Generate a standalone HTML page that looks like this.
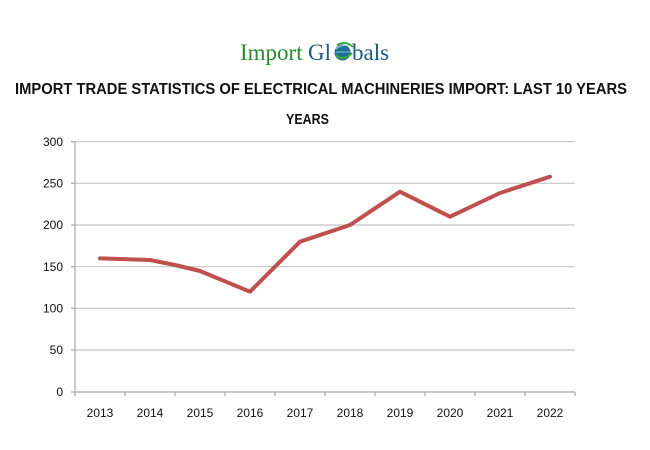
<!DOCTYPE html>
<html>
<head>
<meta charset="utf-8">
<style>
  html,body{margin:0;padding:0;background:#fff;}
  svg{display:block;}
</style>
</head>
<body>
<svg width="650" height="450" viewBox="0 0 650 450" xmlns="http://www.w3.org/2000/svg">
  <rect width="650" height="450" fill="#ffffff"/>

  <!-- Logo -->
  <text x="240" y="60" font-family="'Liberation Serif', serif" font-size="23" fill="#2b8a2e">Import</text>
  <text x="308" y="60" font-family="'Liberation Serif', serif" font-size="23" fill="#1d5a7e">Gl</text>
  <g>
    <circle cx="342.5" cy="52.5" r="8" fill="#1f6f9a"/>
    <path d="M336 49 Q342 44 349 46" stroke="#9fd0ec" stroke-width="1" fill="none"/>
    <path d="M335.5 52 L349.5 52" stroke="#9fd0ec" stroke-width="0.8" fill="none"/>
    <path d="M336 55 Q343 62 352 53" stroke="#3aa53a" stroke-width="2.2" fill="none"/>
    <path d="M337 45 Q346 40 353 47" stroke="#3aa53a" stroke-width="1.8" fill="none"/>
  </g>
  <text x="352" y="60" font-family="'Liberation Serif', serif" font-size="23" fill="#1d5a7e">bals</text>

  <!-- Titles -->
  <text x="15" y="94" font-family="'Liberation Sans', sans-serif" font-weight="bold" font-size="16" fill="#111" textLength="612" lengthAdjust="spacingAndGlyphs">IMPORT TRADE STATISTICS OF ELECTRICAL MACHINERIES IMPORT: LAST 10 YEARS</text>
  <text x="286" y="124" font-family="'Liberation Sans', sans-serif" font-weight="bold" font-size="15" fill="#111" textLength="43" lengthAdjust="spacingAndGlyphs">YEARS</text>

  <!-- Gridlines -->
  <g stroke="#c4c4c4" stroke-width="1.2">
    <line x1="75" y1="141.7" x2="575" y2="141.7"/>
    <line x1="75" y1="183.3" x2="575" y2="183.3"/>
    <line x1="75" y1="225" x2="575" y2="225"/>
    <line x1="75" y1="266.7" x2="575" y2="266.7"/>
    <line x1="75" y1="308.3" x2="575" y2="308.3"/>
    <line x1="75" y1="350" x2="575" y2="350"/>
  </g>

  <!-- Axes -->
  <g stroke="#a6a6a6" stroke-width="1.2">
    <line x1="75" y1="141.7" x2="75" y2="392"/>
    <line x1="75" y1="392" x2="575" y2="392"/>
    <line x1="71" y1="141.7" x2="75" y2="141.7"/>
    <line x1="71" y1="183.3" x2="75" y2="183.3"/>
    <line x1="71" y1="225" x2="75" y2="225"/>
    <line x1="71" y1="266.7" x2="75" y2="266.7"/>
    <line x1="71" y1="308.3" x2="75" y2="308.3"/>
    <line x1="71" y1="350" x2="75" y2="350"/>
    <line x1="71" y1="392" x2="75" y2="392"/>
    <line x1="75" y1="392" x2="75" y2="396"/>
    <line x1="125" y1="392" x2="125" y2="396"/>
    <line x1="175" y1="392" x2="175" y2="396"/>
    <line x1="225" y1="392" x2="225" y2="396"/>
    <line x1="275" y1="392" x2="275" y2="396"/>
    <line x1="325" y1="392" x2="325" y2="396"/>
    <line x1="375" y1="392" x2="375" y2="396"/>
    <line x1="425" y1="392" x2="425" y2="396"/>
    <line x1="475" y1="392" x2="475" y2="396"/>
    <line x1="525" y1="392" x2="525" y2="396"/>
    <line x1="575" y1="392" x2="575" y2="396"/>
  </g>

  <!-- Y labels -->
  <g font-family="'Liberation Sans', sans-serif" font-size="12" fill="#111" text-anchor="end">
    <text x="63" y="146">300</text>
    <text x="63" y="187.5">250</text>
    <text x="63" y="229">200</text>
    <text x="63" y="271">150</text>
    <text x="63" y="312.5">100</text>
    <text x="63" y="354">50</text>
    <text x="63" y="396">0</text>
  </g>

  <!-- X labels -->
  <g font-family="'Liberation Sans', sans-serif" font-size="12" fill="#111" text-anchor="middle">
    <text x="100" y="417">2013</text>
    <text x="150" y="417">2014</text>
    <text x="200" y="417">2015</text>
    <text x="250" y="417">2016</text>
    <text x="300" y="417">2017</text>
    <text x="350" y="417">2018</text>
    <text x="400" y="417">2019</text>
    <text x="450" y="417">2020</text>
    <text x="500" y="417">2021</text>
    <text x="550" y="417">2022</text>
  </g>

  <!-- Series -->
  <polyline fill="none" stroke="#c0504d" stroke-width="4" stroke-linejoin="round" stroke-linecap="round"
    points="100,258.4 150,260 175,265 200,271 250,291.7 300,241.7 350,225 400,191.7 450,216.7 500,193 550,176.7"/>
</svg>
</body>
</html>
